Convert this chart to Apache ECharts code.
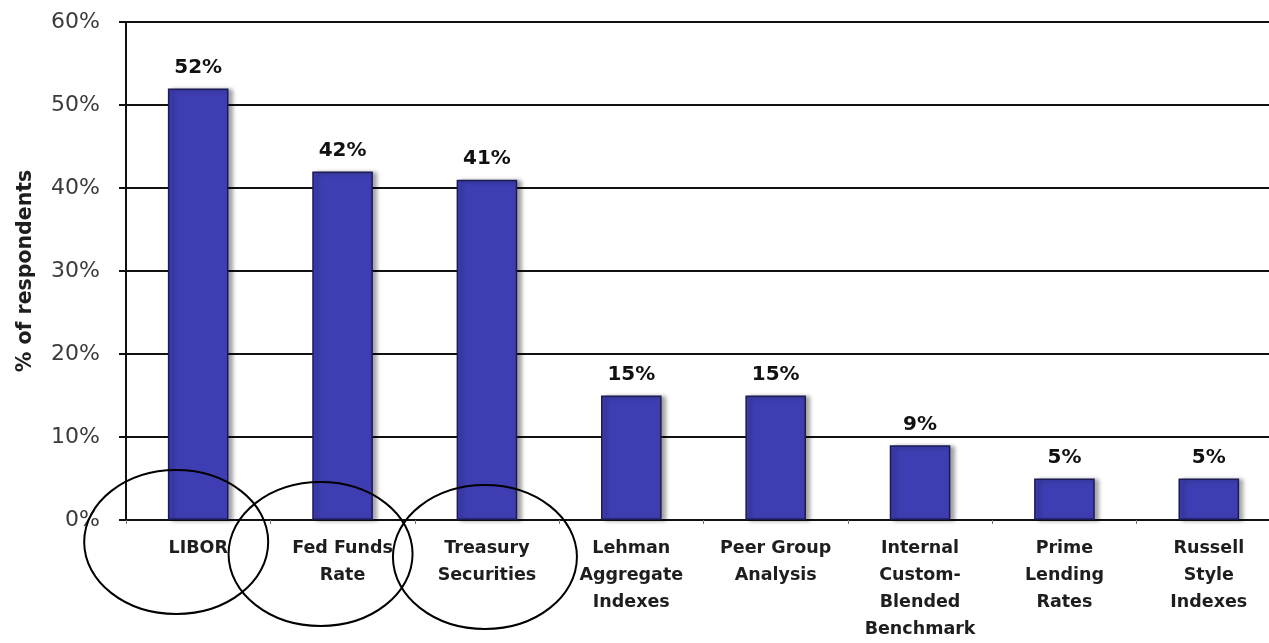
<!DOCTYPE html>
<html>
<head>
<meta charset="utf-8">
<script src="https://cdn.jsdelivr.net/npm/echarts@6/dist/echarts.min.js"></script>
<style>
  html, body { margin: 0; padding: 0; background: #ffffff; }
  #frame { width: 1269px; height: 643px; overflow: hidden; position: relative; }
  #chart { width: 1281px; height: 643px; position: absolute; left: 0; top: 0; }
</style>
</head>
<body>
<div id="frame"><div id="chart"></div></div>
<script>
// Benchmarks used by respondents
const categories = [
  'LIBOR',
  'Fed Funds\nRate',
  'Treasury\nSecurities',
  'Lehman\nAggregate\nIndexes',
  'Peer Group\nAnalysis',
  'Internal\nCustom-\nBlended\nBenchmark',
  'Prime\nLending\nRates',
  'Russell\nStyle\nIndexes'
];
const shares = [52, 42, 41, 15, 15, 9, 5, 5];
const yTicks = [0, 10, 20, 30, 40, 50, 60];
// categories circled by hand-drawn ellipses
const circled = ['LIBOR', 'Fed Funds\nRate', 'Treasury\nSecurities'];

const FONT = '"DejaVu Sans", Arial, sans-serif';

const chart = echarts.init(document.getElementById('chart'), null, { renderer: 'canvas' });

chart.setOption({
  backgroundColor: '#ffffff',
  animation: false,
  grid: { left: 126, top: 22, bottom: 121, right: 0, containLabel: false },
  xAxis: {
    type: 'category',
    data: categories,
    boundaryGap: true,
    axisLine: { lineStyle: { color: '#111111', width: 2 } },
    axisTick: { show: true, length: 4, lineStyle: { color: '#777777', width: 1 } },
    axisLabel: {
      interval: 0,
      margin: 15,
      color: '#1e1e1e',
      fontFamily: FONT,
      fontWeight: 'bold',
      fontSize: 17.5,
      lineHeight: 27
    }
  },
  yAxis: {
    type: 'value',
    min: yTicks[0],
    max: yTicks[yTicks.length - 1],
    interval: 10,
    name: '% of respondents',
    nameLocation: 'middle',
    nameRotate: 90,
    nameGap: 90,
    nameTextStyle: { fontFamily: FONT, fontWeight: 'bold', fontSize: 20.5, color: '#1e1e1e' },
    axisLine: { show: true, lineStyle: { color: '#111111', width: 2 } },
    axisTick: { show: true, length: 7, lineStyle: { color: '#111111', width: 2 } },
    axisLabel: {
      margin: 26,
      color: '#3a3a3a',
      fontFamily: FONT,
      fontSize: 22,
      formatter: v => v + '%'
    },
    splitLine: { show: true, lineStyle: { color: '#111111', width: 2 } }
  },
  series: [{
    type: 'bar',
    data: shares,
    barWidth: '42%',
    itemStyle: {
      color: '#3e3eb2',
      borderColor: '#1b1b52',
      borderWidth: 1.5,
      shadowColor: 'rgba(0,0,0,0.35)',
      shadowBlur: 4,
      shadowOffsetX: 4,
      shadowOffsetY: 1
    },
    label: {
      show: true,
      position: 'top',
      distance: 11,
      formatter: p => p.value + '%',
      fontFamily: FONT,
      fontWeight: 'bold',
      fontSize: 20,
      color: '#111111'
    }
  }]
});

// Hand-drawn ellipses around the circled category labels
const ellipseShapes = {
  'LIBOR': { dx: -22, dy: 22, rx: 92, ry: 72 },
  'Fed Funds\nRate': { dx: -22, dy: 34, rx: 92, ry: 72 },
  'Treasury\nSecurities': { dx: -2, dy: 37, rx: 92, ry: 72 }
};
const baseY = chart.convertToPixel({ yAxisIndex: 0 }, 0);
chart.setOption({
  graphic: circled.map(cat => {
    const s = ellipseShapes[cat];
    const cx = chart.convertToPixel({ xAxisIndex: 0 }, cat);
    return {
      type: 'ellipse',
      silent: true,
      z: 100,
      shape: { cx: cx + s.dx, cy: baseY + s.dy, rx: s.rx, ry: s.ry },
      style: { fill: null, stroke: '#000000', lineWidth: 2 }
    };
  })
});
</script>
</body>
</html>
